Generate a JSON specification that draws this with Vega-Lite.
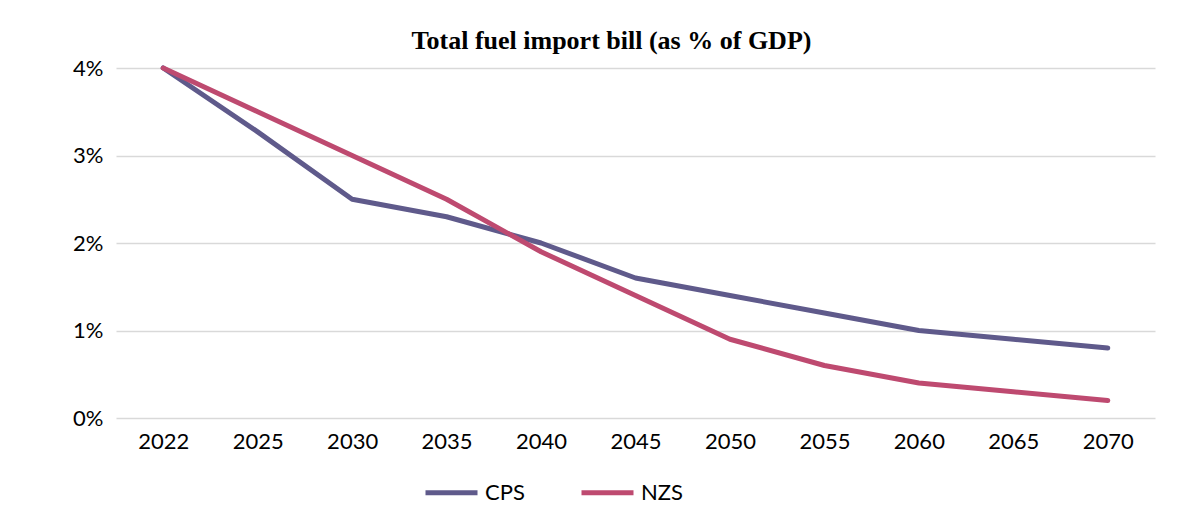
{
  "$schema": "https://vega.github.io/schema/vega-lite/v6.json",
  "autosize": {"type": "none"},
  "width": 1039,
  "height": 350,
  "padding": {"left": 116, "top": 68, "right": 45, "bottom": 109},
  "background": "white",
  "title": {
    "text": "Total fuel import bill (as % of GDP)",
    "font": "Liberation Serif",
    "fontSize": 26,
    "fontWeight": "bold",
    "color": "#000000",
    "anchor": "middle",
    "dx": -24,
    "offset": 3
  },
  "data": {
    "values": [
      {"year": "2022", "scenario": "CPS", "value": 4.0},
      {"year": "2025", "scenario": "CPS", "value": 3.27},
      {"year": "2030", "scenario": "CPS", "value": 2.5},
      {"year": "2035", "scenario": "CPS", "value": 2.3},
      {"year": "2040", "scenario": "CPS", "value": 2.0},
      {"year": "2045", "scenario": "CPS", "value": 1.6},
      {"year": "2050", "scenario": "CPS", "value": 1.4},
      {"year": "2055", "scenario": "CPS", "value": 1.2},
      {"year": "2060", "scenario": "CPS", "value": 1.0},
      {"year": "2065", "scenario": "CPS", "value": 0.9},
      {"year": "2070", "scenario": "CPS", "value": 0.8},
      {"year": "2022", "scenario": "NZS", "value": 4.0},
      {"year": "2025", "scenario": "NZS", "value": 3.5},
      {"year": "2030", "scenario": "NZS", "value": 3.0},
      {"year": "2035", "scenario": "NZS", "value": 2.5},
      {"year": "2040", "scenario": "NZS", "value": 1.9},
      {"year": "2045", "scenario": "NZS", "value": 1.4},
      {"year": "2050", "scenario": "NZS", "value": 0.9},
      {"year": "2055", "scenario": "NZS", "value": 0.6},
      {"year": "2060", "scenario": "NZS", "value": 0.4},
      {"year": "2065", "scenario": "NZS", "value": 0.3},
      {"year": "2070", "scenario": "NZS", "value": 0.2}
    ]
  },
  "mark": {"type": "line", "strokeWidth": 5, "strokeCap": "round", "strokeJoin": "round"},
  "encoding": {
    "x": {
      "field": "year",
      "type": "ordinal",
      "scale": {"type": "point", "padding": 0.5},
      "axis": {
        "title": null,
        "labelAngle": 0,
        "domain": false,
        "ticks": false,
        "labelFont": "Lato",
        "labelFontSize": 22,
        "labelColor": "#000000",
        "labelPadding": 13
      }
    },
    "y": {
      "field": "value",
      "type": "quantitative",
      "scale": {"domain": [0, 4], "nice": false},
      "axis": {
        "title": null,
        "values": [0, 1, 2, 3, 4],
        "labelExpr": "datum.value + '%'",
        "domain": false,
        "ticks": false,
        "grid": true,
        "gridColor": "#d9d9d9",
        "gridWidth": 1.5,
        "labelFont": "Lato",
        "labelFontSize": 22,
        "labelColor": "#000000",
        "labelPadding": 13
      }
    },
    "color": {
      "field": "scenario",
      "type": "nominal",
      "scale": {"domain": ["CPS", "NZS"], "range": ["#5f5a8b", "#be4a70"]},
      "legend": {
        "title": null,
        "orient": "none",
        "legendX": 307,
        "legendY": 396,
        "direction": "horizontal",
        "symbolType": "stroke",
        "symbolStrokeWidth": 5,
        "symbolSize": 2704,
        "labelFont": "Lato",
        "labelFontSize": 22,
        "labelColor": "#000000",
        "labelOffset": 5,
        "columnPadding": 46
      }
    }
  },
  "config": {"view": {"stroke": null}}
}
